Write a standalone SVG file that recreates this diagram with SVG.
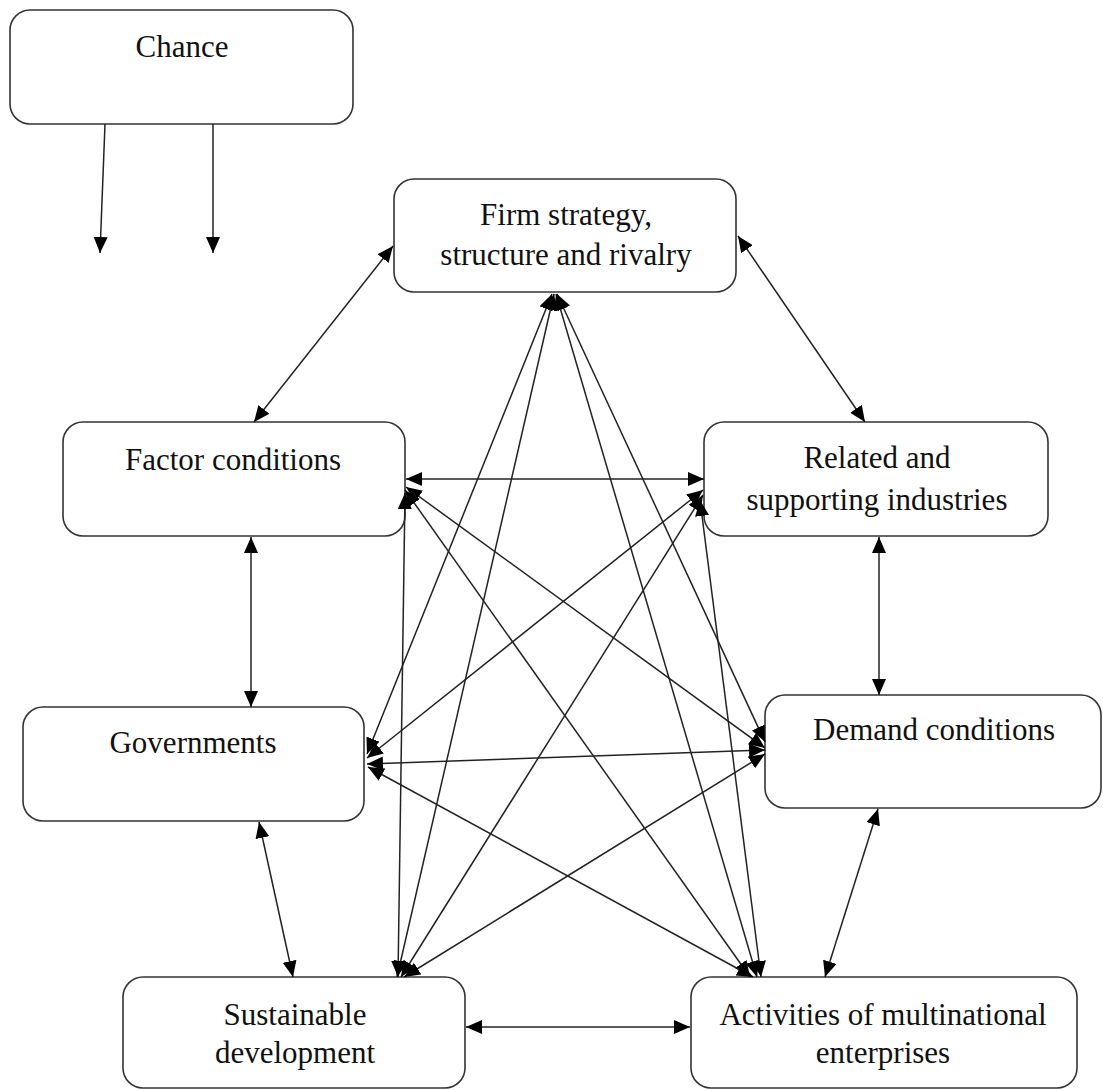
<svg xmlns="http://www.w3.org/2000/svg" width="1103" height="1090" viewBox="0 0 1103 1090">
<style>
.box{fill:#fff;stroke:#333;stroke-width:1.6}
.t{font-family:"Liberation Serif","Times New Roman",serif;font-size:31px;fill:#111;text-anchor:middle}
.c line{stroke:#222;stroke-width:1.5;marker-end:url(#ah)}
.c .b{marker-start:url(#ah)}
</style>
<defs>
<marker id="ah" markerUnits="userSpaceOnUse" markerWidth="17" markerHeight="15" refX="16" refY="7" orient="auto-start-reverse">
<path d="M0,0 L16,7 L0,14 z" fill="#000"/>
</marker>
</defs>
<rect width="1103" height="1090" fill="#fff"/>
<g id="chance"><rect class="box" x="10" y="10" width="343" height="114" rx="20"/><text class="t" x="182" y="57">Chance</text></g>
<g id="firm"><rect class="box" x="394" y="179" width="342" height="113" rx="20"/><text class="t" x="566" y="225">Firm strategy,</text><text class="t" x="566" y="265">structure and rivalry</text></g>
<g id="factor"><rect class="box" x="63" y="422" width="342" height="114" rx="20"/><text class="t" x="233" y="470">Factor conditions</text></g>
<g id="related"><rect class="box" x="704" y="422" width="344" height="114" rx="20"/><text class="t" x="877" y="468">Related and</text><text class="t" x="877" y="510">supporting industries</text></g>
<g id="governments"><rect class="box" x="23" y="707" width="341" height="114" rx="20"/><text class="t" x="193" y="753">Governments</text></g>
<g id="demand"><rect class="box" x="765" y="695" width="336" height="113" rx="20"/><text class="t" x="934" y="740">Demand conditions</text></g>
<g id="sustainable"><rect class="box" x="123" y="977" width="342" height="111" rx="20"/><text class="t" x="295" y="1025">Sustainable</text><text class="t" x="295" y="1063">development</text></g>
<g id="activities"><rect class="box" x="691" y="977" width="386" height="111" rx="20"/><text class="t" x="883" y="1025">Activities of multinational</text><text class="t" x="883" y="1063">enterprises</text></g>
<g id="connectors" class="c">
<line x1="105" y1="124" x2="100" y2="253"/>
<line x1="213" y1="124" x2="213" y2="253"/>
<line class="b" x1="254" y1="422" x2="393" y2="246"/>
<line class="b" x1="738" y1="236" x2="865" y2="422"/>
<line class="b" x1="251" y1="537" x2="251" y2="707"/>
<line class="b" x1="879" y1="537" x2="879" y2="695"/>
<line class="b" x1="259" y1="822" x2="293" y2="977"/>
<line class="b" x1="878" y1="809" x2="825" y2="977"/>
<line class="b" x1="466" y1="1027" x2="690" y2="1027"/>
<line class="b" x1="552" y1="294" x2="367" y2="754"/>
<line class="b" x1="554" y1="294" x2="397" y2="977"/>
<line class="b" x1="557" y1="294" x2="765" y2="742"/>
<line class="b" x1="556" y1="294" x2="757" y2="977"/>
<line class="b" x1="406" y1="479" x2="704" y2="479"/>
<line class="b" x1="406" y1="487" x2="765" y2="748"/>
<line class="b" x1="405" y1="490" x2="750" y2="977"/>
<line class="b" x1="405" y1="493" x2="398" y2="977"/>
<line class="b" x1="367" y1="758" x2="703" y2="490"/>
<line class="b" x1="367" y1="764" x2="765" y2="750"/>
<line class="b" x1="368" y1="767" x2="753" y2="977"/>
<line class="b" x1="401" y1="977" x2="703" y2="495"/>
<line class="b" x1="404" y1="977" x2="765" y2="754"/>
<line class="b" x1="700" y1="500" x2="761" y2="977"/>
</g>
</svg>
